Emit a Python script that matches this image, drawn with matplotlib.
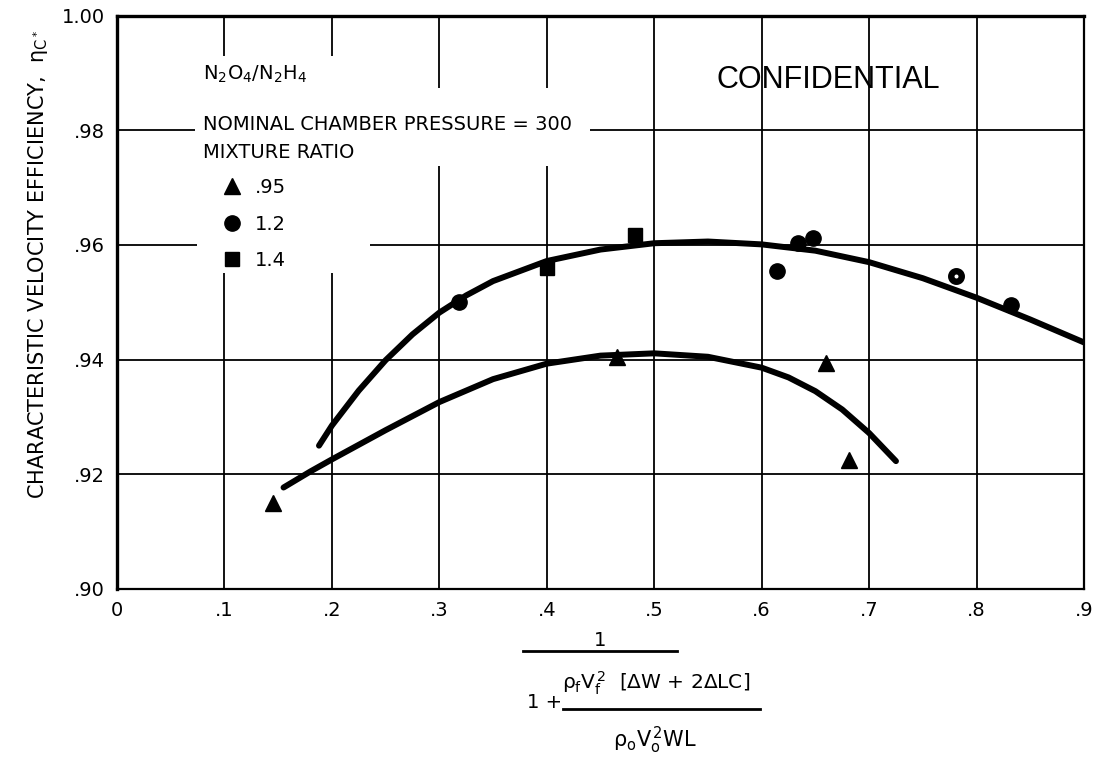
import numpy as np
import matplotlib
matplotlib.use("Agg")
import matplotlib.pyplot as plt
from matplotlib.patches import Rectangle
from matplotlib.lines import Line2D

plt.rcParams["font.family"] = ["DejaVu Sans"]
plt.rcParams["mathtext.default"] = "regular"

# Data
# mixture ratio .95
tri_x = [0.145, 0.465, 0.660, 0.681]
tri_y = [0.915, 0.9405, 0.9395, 0.9225]
# mixture ratio 1.2
circ_x = [0.318, 0.614, 0.634, 0.648, 0.832]
circ_y = [0.9500, 0.9554, 0.9603, 0.9612, 0.9495]
ring_x = [0.781]
ring_y = [0.9545]
# mixture ratio 1.4
sq_x = [0.400, 0.482]
sq_y = [0.9560, 0.9617]

# faired curves
upper_x = [0.188, 0.20, 0.225, 0.25, 0.275, 0.30, 0.325, 0.35, 0.40, 0.45, 0.50,
           0.55, 0.60, 0.65, 0.70, 0.75, 0.80, 0.85, 0.90]
upper_y = [0.9250, 0.9285, 0.9346, 0.9399, 0.9444, 0.9482, 0.9512, 0.9537, 0.9572,
           0.9592, 0.9603, 0.9606, 0.9601, 0.9590, 0.9570, 0.9542, 0.9508, 0.9470,
           0.9430]
lower_x = [0.155, 0.18, 0.20, 0.25, 0.30, 0.35, 0.40, 0.45, 0.50, 0.55, 0.60,
           0.625, 0.65, 0.675, 0.70, 0.725]
lower_y = [0.9177, 0.9205, 0.9226, 0.9277, 0.9326, 0.9366, 0.9393, 0.9407, 0.9411,
           0.9405, 0.9386, 0.9369, 0.9345, 0.9313, 0.9272, 0.9223]

x_ticks = [0, 0.1, 0.2, 0.3, 0.4, 0.5, 0.6, 0.7, 0.8, 0.9]
x_tick_labels = ["0", ".1", ".2", ".3", ".4", ".5", ".6", ".7", ".8", ".9"]
y_ticks = [0.90, 0.92, 0.94, 0.96, 0.98, 1.00]
y_tick_labels = [".90", ".92", ".94", ".96", ".98", "1.00"]
legend_labels = [".95", "1.2", "1.4"]

W, H = 1104, 759


def fxy(px, py):
    # pixel position -> figure fraction
    return px / W, 1 - py / H


def white_box(ax, x0, y0, x1, y1):
    # blank the grid behind the notes (pixel corners)
    ax.add_patch(Rectangle(fxy(x0, y1), (x1 - x0) / W, (y1 - y0) / H,
                           transform=fig.transFigure, facecolor="white",
                           edgecolor="none", zorder=1))


fig = plt.figure(figsize=(W / 100, H / 100), dpi=100)
left, right, top, bot = 117, 1084, 15.6, 589
ax = fig.add_axes([left / W, 1 - bot / H, (right - left) / W, (bot - top) / H])

ax.set_xlim(0, 0.9)
ax.set_ylim(0.90, 1.00)
ax.set_xticks(x_ticks)
ax.set_xticklabels(x_tick_labels)
ax.set_yticks(y_ticks)
ax.set_yticklabels(y_tick_labels)
ax.tick_params(length=0, labelsize=14, pad=9)
ax.set_axisbelow(True)
ax.grid(True, color="black", lw=1.3)
for side in ["left", "top"]:
    ax.spines[side].set_linewidth(2.4)
for side in ["right", "bottom"]:
    ax.spines[side].set_linewidth(1.6)

white_box(ax, 195, 56, 345, 90)
white_box(ax, 195, 88, 590, 166)
white_box(ax, 197, 160, 370, 273)

# curves
ax.plot(upper_x, upper_y, color="black", lw=4.3, solid_capstyle="round", zorder=2)
ax.plot(lower_x, lower_y, color="black", lw=4.3, solid_capstyle="round", zorder=2)

# points
h_tri, = ax.plot(tri_x, tri_y, "^", color="black", ms=11, zorder=3)
h_circ, = ax.plot(circ_x, circ_y, "o", color="black", ms=11, zorder=3)
ax.plot(ring_x, ring_y, "o", mfc="white", mec="black", mew=4.6, ms=7.6, zorder=3)
h_sq, = ax.plot(sq_x, sq_y, "s", color="black", ms=9.5, zorder=3)

ax.legend([h_tri, h_circ, h_sq], legend_labels, loc="upper left",
          bbox_to_anchor=fxy(222, 178), bbox_transform=fig.transFigure,
          frameon=False, fontsize=14, handlelength=1.0, handletextpad=0.7,
          labelspacing=0.9, borderpad=0, borderaxespad=0)

# notes
note_kw = dict(transform=fig.transFigure, fontsize=14, va="baseline", ha="left", zorder=4)
ax.text(*fxy(203, 80), "N$_2$O$_4$/N$_2$H$_4$", **note_kw)
ax.text(*fxy(203, 130), "NOMINAL CHAMBER PRESSURE = 300", **note_kw)
ax.text(*fxy(203, 158), "MIXTURE RATIO", **note_kw)
ax.text(*fxy(716, 80), "CONFIDENTIAL", transform=fig.transFigure,
        fontsize=22, family="Liberation Sans", va="center", ha="left")

# y label
fig.text(*fxy(38, 264), r"CHARACTERISTIC VELOCITY EFFICIENCY,  $\eta_{C^*}$",
         rotation=90, fontsize=15, va="center", ha="center")

# x label: stacked fraction
fig.text(*fxy(600, 640), "1", fontsize=14, ha="center", va="center")
fig.add_artist(Line2D([523 / W, 677 / W], [1 - 651 / H, 1 - 651 / H],
                      transform=fig.transFigure, color="black", lw=2))
fig.text(*fxy(527, 702), "1 +", fontsize=14, ha="left", va="center")
fig.text(*fxy(562, 683), r"$\rho_f V_f^{\,2}$  [$\Delta$W + 2$\Delta$LC]",
         fontsize=14.5, ha="left", va="center")
fig.add_artist(Line2D([563 / W, 760 / W], [1 - 709 / H, 1 - 709 / H],
                      transform=fig.transFigure, color="black", lw=2))
fig.text(*fxy(655, 740), r"$\rho_o V_o^{\,2}$WL", fontsize=15, ha="center", va="center")

fig.savefig("out.png", dpi=100)
